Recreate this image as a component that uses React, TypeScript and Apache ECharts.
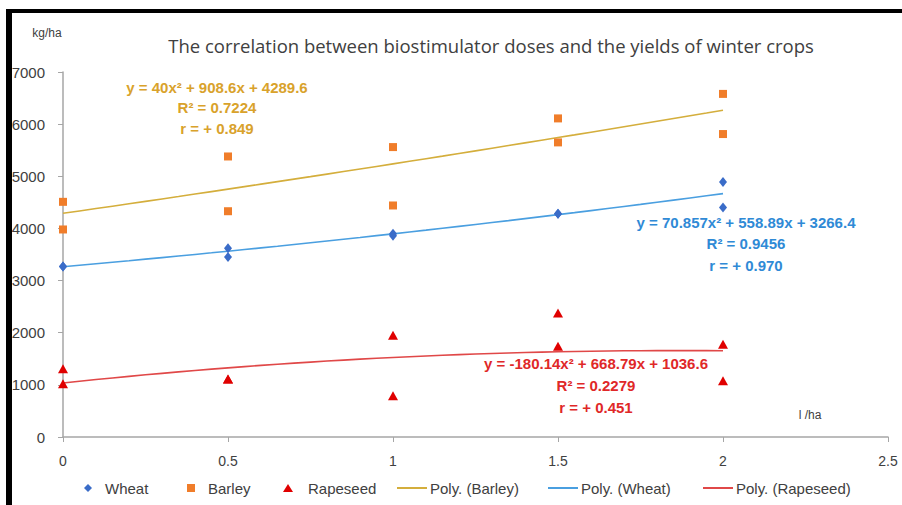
import React, { useEffect, useRef } from "react";
import * as echarts from "echarts";

// Doses (l/ha) and yields (kg/ha), two replicates per dose
const doses = [0, 0.5, 1, 1.5, 2];
const wheatRep1 = [3270, 3620, 3900, 4280, 4890];
const wheatRep2 = [3270, 3450, 3860, 4280, 4400];
const barleyRep1 = [4510, 5380, 5560, 6110, 6580];
const barleyRep2 = [3980, 4330, 4440, 5650, 5810];
const rapeRep1 = [1310, 1110, 1950, 2380, 1780];
const rapeRep2 = [1020, 1110, 790, 1740, 1080];

// Polynomial trendline coefficients [a, b, c] for y = a x^2 + b x + c
const barleyCoef = [40, 908.6, 4289.6];
const wheatCoef = [70.857, 558.89, 3266.4];
const rapeCoef = [-180.14, 668.79, 1036.6];

const yTicks = [0, 1000, 2000, 3000, 4000, 5000, 6000, 7000];
const xTicks = [0, 0.5, 1, 1.5, 2, 2.5];

const barleyText = ["y = 40x² + 908.6x + 4289.6", "R² = 0.7224", "r = + 0.849"];
const wheatText = ["y = 70.857x² + 558.89x + 3266.4", "R² = 0.9456", "r = + 0.970"];
const rapeText = ["y = -180.14x² + 668.79x + 1036.6", "R² = 0.2279", "r = + 0.451"];

const title = "The correlation between biostimulator doses and the yields of winter crops";
const legendNames = ["Wheat", "Barley", "Rapeseed", "Poly. (Barley)", "Poly. (Wheat)", "Poly. (Rapeseed)"];

const pairs = (xs: number[], a: number[], b: number[]) => {
  const out: number[][] = [];
  xs.forEach((x, i) => {
    out.push([x, a[i]]);
    out.push([x, b[i]]);
  });
  return out;
};

const trend = (coef: number[]) => {
  const out: number[][] = [];
  for (let i = 0; i <= 40; i++) {
    const x = i * 0.05;
    out.push([x, coef[0] * x * x + coef[1] * x + coef[2]]);
  }
  return out;
};

const FONT = "Liberation Sans";

export default function App() {
  const ref = useRef<HTMLDivElement>(null);
  useEffect(() => {
    if (!ref.current) return;
    const chart = echarts.init(ref.current, null, { renderer: "svg" });
    const annot = (lines: string[], cx: number, ys: number[], color: string) =>
      lines.map((t, i) => ({
        type: "text",
        x: cx,
        y: ys[i],
        z: 50,
        style: {
          text: t,
          fill: color,
          font: `bold 15px "${FONT}"`,
          textAlign: "center",
          textVerticalAlign: "middle",
        },
      }));

    // legend layout: [left, isMarker, icon]
    const legendLayout: [number, boolean, string][] = [
      [79, true, "diamond"],
      [182, true, "rect"],
      [278, true, "triangle"],
      [392, false, "rect"],
      [543, false, "rect"],
      [698, false, "rect"],
    ];
    const legends = legendNames.map((name, i) => {
      const [left, marker, icon] = legendLayout[i];
      return {
        left,
        top: 475,
        itemWidth: marker ? (icon === "triangle" ? 10 : 8) : 30,
        itemHeight: marker ? 8 : 2,
        selectedMode: false,
        textStyle: {
          fontFamily: FONT,
          fontSize: 15,
          lineHeight: 16,
          color: "#404040",
          padding: marker ? [0, 0, 0, icon === "triangle" ? 10 : 8] : [0, 0, 0, -2],
        },
        data: [{ name, icon }],
      };
    });

    chart.setOption({
      animation: false,
      backgroundColor: "#ffffff",
      title: {
        text: title,
        left: 486,
        top: 31,
        textAlign: "center",
        textStyle: { fontFamily: "Open Sans", fontSize: 18.5, fontWeight: "normal", color: "#404040" },
      },
      grid: { left: 63, right: 14, top: 72, bottom: 68, containLabel: false },
      xAxis: {
        type: "value",
        min: 0,
        max: 2.5,
        interval: 0.5,
        axisLine: { show: true, lineStyle: { color: "#A6A6A6", width: 1.5 } },
        axisTick: { show: true, length: 5, lineStyle: { color: "#A6A6A6" } },
        splitLine: { show: false },
        axisLabel: {
          margin: 17,
          fontFamily: FONT,
          fontSize: 14,
          color: "#404040",
          formatter: (v: number) => (xTicks.includes(v) ? String(v) : ""),
        },
      },
      yAxis: {
        type: "value",
        min: 0,
        max: 7000,
        interval: 1000,
        axisLine: { show: true, lineStyle: { color: "#A6A6A6", width: 1.5 } },
        axisTick: { show: true, length: 5, lineStyle: { color: "#A6A6A6" } },
        splitLine: { show: false },
        axisLabel: {
          margin: 18,
          fontFamily: FONT,
          fontSize: 15,
          color: "#404040",
          formatter: (v: number) => (yTicks.includes(v) ? String(v) : ""),
        },
      },
      legend: legends,
      series: [
        {
          name: "Poly. (Barley)",
          type: "line",
          data: trend(barleyCoef),
          showSymbol: false,
          symbol: "none",
          lineStyle: { color: "#D4AE3C", width: 1.6 },
          itemStyle: { color: "#D4AE3C" },
          z: 2,
        },
        {
          name: "Poly. (Wheat)",
          type: "line",
          data: trend(wheatCoef),
          showSymbol: false,
          symbol: "none",
          lineStyle: { color: "#4A9FE0", width: 1.6 },
          itemStyle: { color: "#4A9FE0" },
          z: 2,
        },
        {
          name: "Poly. (Rapeseed)",
          type: "line",
          data: trend(rapeCoef),
          showSymbol: false,
          symbol: "none",
          lineStyle: { color: "#E04848", width: 1.6 },
          itemStyle: { color: "#E04848" },
          z: 2,
        },
        {
          name: "Wheat",
          type: "scatter",
          symbol: "diamond",
          symbolSize: [8, 10],
          data: pairs(doses, wheatRep1, wheatRep2),
          itemStyle: { color: "#3A6CC8", opacity: 1 },
          z: 3,
        },
        {
          name: "Barley",
          type: "scatter",
          symbol: "rect",
          symbolSize: 8,
          data: pairs(doses, barleyRep1, barleyRep2),
          itemStyle: { color: "#F07D2A", opacity: 1 },
          z: 3,
        },
        {
          name: "Rapeseed",
          type: "scatter",
          symbol: "triangle",
          symbolSize: [10, 9],
          data: pairs(doses, rapeRep1, rapeRep2),
          itemStyle: { color: "#E00000", opacity: 1 },
          z: 3,
        },
      ],
      graphic: [
        {
          type: "text",
          x: 47,
          y: 33,
          style: {
            text: "kg/ha",
            fill: "#404040",
            font: `12px "${FONT}"`,
            textAlign: "center",
            textVerticalAlign: "middle",
          },
        },
        {
          type: "text",
          x: 810,
          y: 415,
          style: {
            text: "l /ha",
            fill: "#404040",
            font: `12px "${FONT}"`,
            textAlign: "center",
            textVerticalAlign: "middle",
          },
        },
        ...annot(barleyText, 217, [87, 107, 128], "#D9A22B"),
        ...annot(wheatText, 746, [222, 243, 265], "#2F8AD6"),
        ...annot(rapeText, 596, [363, 385, 407], "#E02828"),
        { type: "rect", z: 100, shape: { x: 6, y: 9, width: 896, height: 4 }, style: { fill: "#000" } },
        { type: "rect", z: 100, shape: { x: 6, y: 9, width: 6, height: 496 }, style: { fill: "#000" } },
      ],
    });
    return () => chart.dispose();
  }, []);
  return (
    <div
      ref={ref}
      style={{ position: "fixed", left: 0, top: 0, width: 902, height: 505, background: "#fff" }}
    />
  );
}
